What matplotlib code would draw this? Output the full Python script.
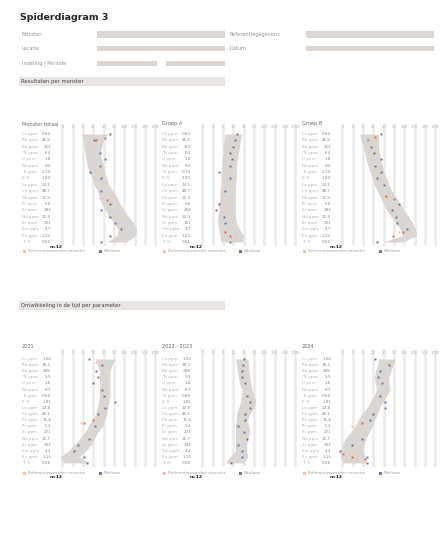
import numpy as np
import matplotlib
matplotlib.use('Agg')
import matplotlib.pyplot as plt
import matplotlib.transforms as mtransforms

W, H = 446, 543

# row labels used by all panels
row_names = ["Cs ppm", "Rb ppm", "Ba ppm", "Th ppm", "U ppm", "Nb ppm",
             "Ta ppm", "K %", "La ppm", "Ce ppm", "Pb ppm", "Pr ppm",
             "Sr ppm", "Nd ppm", "Zr ppm", "Sm ppm", "Eu ppm", "Ti %"]
row_vals_1 = ["0.82", "41.5", "312", "6.4", "1.8", "9.2", "0.74", "1.93", "24.1",
              "48.7", "12.3", "5.6", "284", "22.9", "151", "4.7", "1.22", "0.61"]
row_vals_2 = ["1.04", "38.2", "298", "5.9", "1.6", "8.7", "0.69", "1.81", "22.8",
              "46.1", "11.4", "5.3", "271", "21.7", "143", "4.4", "1.15", "0.58"]
tick_labels = ["1", "2", "5", "10", "20", "50", "100", "200", "500", "1000"]

# section 1 panels
p1_lo = [2.9, 3.0, 3.1, 3.2, 3.3, 3.4, 3.6, 3.9, 4.1, 4.4, 4.6, 4.8, 5.2, 5.5, 6.0, 6.4, 6.3, 5.3]
p1_hi = [5.3, 5.0, 4.8, 4.7, 4.8, 5.0, 5.1, 5.3, 5.5, 5.9, 6.3, 6.6, 7.0, 7.4, 7.9, 8.2, 8.1, 7.2]
p1_pr = [0, 1, 3, 4, 5, 6, 7, 9, 11, 12, 13, 14, 15, 16, 17]
p1_pv = [5.6, 4.1, 4.6, 5.1, 4.6, 3.7, 4.7, 4.7, 5.6, 4.7, 5.6, 6.1, 6.7, 5.6, 4.7]
p1_or = [0.6, 1, 10.4]
p1_ov = [5.1, 4.3, 5.3]
p1_lr = [10]
p1_lv = [4.6]

p2_lo = [3.2, 3.1, 3.0, 3.0, 2.9, 2.9, 2.8, 2.8, 2.8, 2.7, 2.7, 2.6, 2.6, 2.5, 2.5, 2.6, 2.7, 2.8]
p2_hi = [4.8, 4.7, 4.6, 4.5, 4.4, 4.3, 4.3, 4.3, 4.2, 4.2, 4.2, 4.2, 4.2, 4.2, 4.3, 4.6, 5.0, 4.9]
p2_pr = [0, 1, 2, 3, 4, 5, 6, 7, 9, 11, 12, 13, 14, 17]
p2_pv = [4.4, 4.2, 4.0, 3.7, 3.9, 3.7, 2.6, 3.7, 3.2, 2.6, 2.3, 3.1, 3.2, 3.7]
p2_or = [15.5, 16]
p2_ov = [3.2, 3.7]
p2_lr = [16]
p2_lv = [4.2]

p3_lo = [2.7, 2.8, 3.0, 3.2, 3.3, 3.5, 3.7, 3.9, 4.1, 4.4, 4.7, 5.0, 5.3, 5.7, 6.2, 6.6, 6.8, 4.9]
p3_hi = [4.5, 4.5, 4.5, 4.6, 4.7, 4.9, 5.0, 5.3, 5.5, 5.8, 6.2, 6.6, 7.0, 7.4, 7.8, 8.1, 8.2, 6.8]
p3_pr = [0, 1, 2, 3, 4, 5, 6, 7, 8, 11, 12, 13, 14, 15, 17]
p3_pv = [4.7, 3.5, 3.8, 4.1, 4.7, 4.2, 4.7, 4.4, 5.0, 6.5, 5.8, 6.2, 6.3, 7.3, 4.4]
p3_or = [0.5, 9.8, 10.3, 15.5, 16.1]
p3_ov = [4.2, 5.2, 6.0, 6.9, 5.9]
p3_lr = [1, 15.5]
p3_lv = [3.6, 6.5]

# section 2 panels
p4_lo = [4.2, 4.4, 4.6, 4.6, 4.6, 4.6, 4.6, 4.5, 4.4, 4.2, 3.9, 3.5, 3.2, 2.7, 2.2, 1.6, 0.8, 1.1]
p4_hi = [6.1, 5.8, 5.6, 5.6, 5.6, 5.6, 5.6, 5.5, 5.4, 5.3, 5.1, 4.9, 4.4, 4.1, 3.8, 3.3, 2.6, 3.6]
p4_pr = [0, 1, 2, 3, 4, 5, 6, 7, 8, 9, 11, 13, 14, 15, 16, 17]
p4_pv = [3.6, 4.8, 4.3, 4.5, 4.0, 4.8, 5.0, 6.1, 5.1, 4.5, 4.2, 3.6, 2.5, 2.1, 3.1, 3.4]
p4_or = [10, 10.5]
p4_ov = [4.0, 3.1]
p4_lr = [0.5, 10.5]
p4_lv = [4.3, 2.8]

p5_lo = [4.2, 4.3, 4.4, 4.5, 4.6, 4.8, 4.8, 4.7, 4.5, 4.3, 4.3, 4.2, 4.2, 4.2, 4.2, 4.2, 3.7, 3.2]
p5_hi = [5.4, 5.5, 5.5, 5.6, 5.7, 5.8, 6.0, 6.2, 6.0, 5.6, 5.3, 5.5, 5.6, 5.4, 5.3, 5.3, 5.4, 5.0]
p5_pr = [0, 1, 2, 3, 4, 6, 7, 8, 9, 10, 11, 12, 13, 14, 15, 16, 17]
p5_pv = [5.0, 4.9, 4.8, 4.8, 5.1, 5.3, 5.6, 5.6, 5.1, 5.1, 4.5, 5.0, 5.3, 4.5, 4.8, 4.8, 3.8]
p5_or = []
p5_ov = []
p5_lr = []
p5_lv = []

p6_lo = [4.5, 4.4, 4.2, 4.1, 4.2, 4.3, 4.1, 3.7, 3.4, 2.9, 2.5, 2.2, 1.8, 1.3, 1.0, 0.8, 0.8, 1.0]
p6_hi = [6.1, 5.9, 5.7, 5.5, 5.5, 5.6, 5.3, 4.9, 4.6, 4.4, 4.1, 3.9, 3.6, 3.3, 3.1, 3.0, 3.2, 3.3]
p6_pr = [0, 1, 2, 3, 4, 6, 7, 8, 9, 10, 13, 14, 15, 16, 17]
p6_pv = [4.2, 5.5, 4.6, 4.5, 4.8, 4.6, 5.1, 5.1, 4.0, 3.7, 2.9, 1.9, 0.8, 3.4, 3.4]
p6_or = [10.5, 15.5, 16, 16.3]
p6_ov = [2.9, 1.1, 1.9, 3.2]
p6_lr = [11, 16]
p6_lv = [1.9, 2.4]

panels_1 = [
    ("Monster totaal", p1_lo, p1_hi, p1_pr, p1_pv, p1_or, p1_ov, p1_lr, p1_lv),
    ("Groep A", p2_lo, p2_hi, p2_pr, p2_pv, p2_or, p2_ov, p2_lr, p2_lv),
    ("Groep B", p3_lo, p3_hi, p3_pr, p3_pv, p3_or, p3_ov, p3_lr, p3_lv),
]
panels_2 = [
    ("2021", p4_lo, p4_hi, p4_pr, p4_pv, p4_or, p4_ov, p4_lr, p4_lv),
    ("2022 - 2023", p5_lo, p5_hi, p5_pr, p5_pv, p5_or, p5_ov, p5_lr, p5_lv),
    ("2024", p6_lo, p6_hi, p6_pr, p6_pv, p6_or, p6_ov, p6_lr, p6_lv),
]

TXT = '#9b9391'
FIELD = '#ddd7d4'
BAND = '#dcd6d3'
GRID = '#ede9e7'
PURPLE = '#7a73a0'
ORANGE = '#e8704f'
PEACH = '#f4c0aa'

fig = plt.figure(figsize=(W / 100, H / 100), dpi=100)
fig.patch.set_facecolor('white')


def fx(x):
    return x / W


def fy(y):
    return 1 - y / H


def box(x0, y0, x1, y1, color):
    fig.patches.append(plt.Rectangle((fx(x0), fy(y1)), fx(x1) - fx(x0), fy(y0) - fy(y1),
                                     transform=fig.transFigure, color=color, lw=0))


def label(x, y, s, size=3.6, color=TXT, weight='normal', ha='left'):
    fig.text(fx(x), fy(y), s, fontsize=size, color=color, weight=weight, ha=ha, va='center')


# header
label(20, 18, "Spiderdiagram 3", size=6.8, color='#2a2424', weight='bold')
label(22, 35, "Monster")
box(97, 31, 225, 38, FIELD)
label(229, 35, "Referentiegegevens")
box(306, 31, 434, 38, FIELD)
label(22, 48, "Locatie")
box(97, 46, 225, 51, FIELD)
label(229, 48, "Datum")
box(306, 46, 434, 51, FIELD)
label(22, 64, "Indeling / Periode")
box(97, 61, 157, 66, FIELD)
box(166, 61, 225, 66, FIELD)

box(19, 77, 225, 86, '#e9e5e3')
label(21, 81.5, "Resultaten per monster", size=3.8, color='#4a4242')

box(19, 301, 225, 310, '#e9e5e3')
label(21, 305.5, "Ontwikkeling in de tijd per parameter", size=3.8, color='#4a4242')


def draw_panel(px0, title_y, row0_y, row17_y, data, vals, legend_y, n_y):
    title, lo, hi, pr, pv, orr, ov, lr, lv = data
    step = (row17_y - row0_y) / 17.0
    top = row0_y - 1.6 * step
    bot = row17_y + 0.6 * step
    left = px0 + 30
    right = px0 + 138
    ax = fig.add_axes([fx(left), fy(bot), fx(right) - fx(left), fy(top) - fy(bot)])
    ax.set_xlim(0, (right - left) / 10.33)
    ax.set_ylim(17.6, -1.6)
    ax.axis('off')
    rows = np.arange(18)
    for g in range(1, 11):
        ax.axvline(g, color=GRID, lw=1.8, zorder=0)
        ax.text(g, -1.05, tick_labels[g - 1], fontsize=2.6, color='#bdb5b2',
                ha='center', va='center')
    ax.fill_betweenx(rows, lo, hi, color=BAND, lw=0, zorder=1)
    ax.plot(pv, pr, 's', ms=2.0, color=PURPLE, mec='none', zorder=3)
    ax.plot(lv, lr, 's', ms=2.0, color=PEACH, mec='none', zorder=3)
    ax.plot(ov, orr, 's', ms=2.0, color=ORANGE, mec='none', zorder=4)
    trans = mtransforms.blended_transform_factory(ax.transAxes, ax.transData)
    w = right - left
    for i in range(18):
        ax.text((px0 - left) / w, i, row_names[i], fontsize=3.0, color='#bbb3b0',
                ha='left', va='center', transform=trans, clip_on=False)
        ax.text((px0 + 29 - left) / w, i, vals[i], fontsize=3.0, color='#908885',
                ha='right', va='center', transform=trans, clip_on=False)
    label(px0, title_y, title, size=3.6, color='#6e6664')
    # legend
    fig.patches.append(plt.Rectangle((fx(px0 + 1), fy(legend_y + 1.5)), fx(3), fy(0) - fy(3),
                                     transform=fig.transFigure, color=PEACH, lw=0))
    label(px0 + 6, legend_y, "Referentiewaarden monster", size=3.0, color='#aaa29f')
    fig.patches.append(plt.Rectangle((fx(px0 + 77), fy(legend_y + 1.5)), fx(3), fy(0) - fy(3),
                                     transform=fig.transFigure, color=PURPLE, lw=0))
    label(px0 + 82, legend_y, "Mediaan", size=3.0, color='#aaa29f')
    label(px0 + 28, n_y, "n=12", size=3.2, color='#1c1818', weight='bold')


for k, data in enumerate(panels_1):
    draw_panel(22 + 140 * k, 124, 134, 242, data, row_vals_1, 251, 247)

for k, data in enumerate(panels_2):
    draw_panel(22 + 140 * k, 347, 359, 463, data, row_vals_2, 473, 477.5)

plt.savefig("out.png", dpi=100)
plt.close()
